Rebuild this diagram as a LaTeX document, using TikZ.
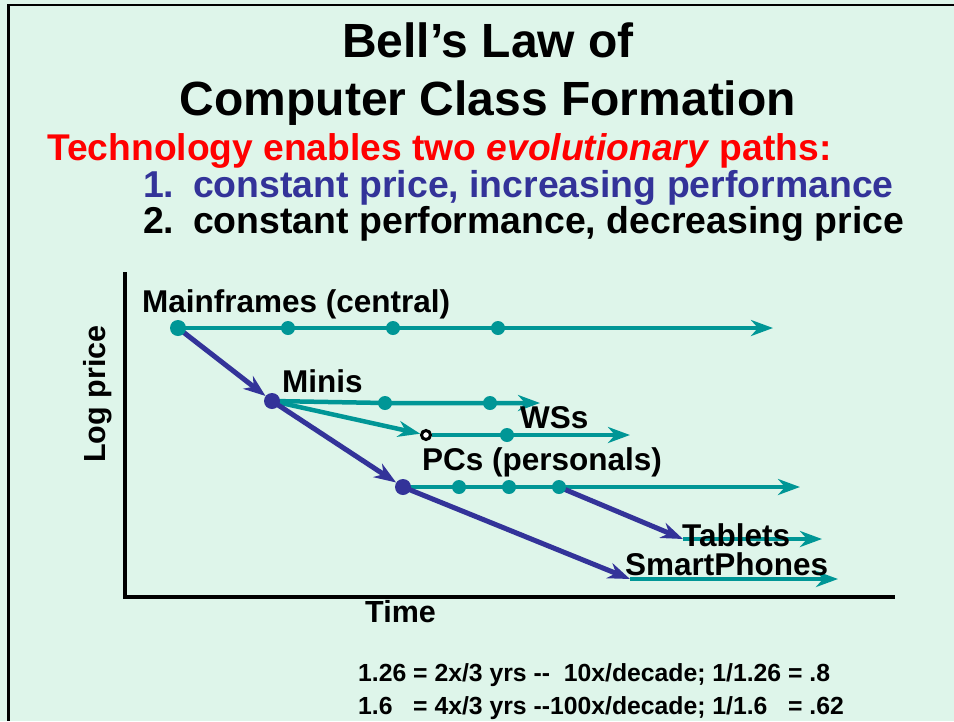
\documentclass[tikz,border=0pt]{standalone}
\usepackage{fontspec}
\usepackage{calc}
\setmainfont{Liberation Sans}
\usetikzlibrary{arrows.meta}
\definecolor{teal}{RGB}{0,150,150}
\definecolor{navy}{RGB}{51,51,153}
\definecolor{mint}{RGB}{222,245,234}
\definecolor{hdred}{RGB}{255,0,0}
\pgfdeclarelayer{paper}
\pgfdeclarelayer{wires}
\pgfsetlayers{paper,wires,main}
\newcommand{\fs}[1]{\fontsize{#1}{1.2\dimexpr#1pt\relax}\selectfont\bfseries}
\tikzset{
  txt/.style={inner sep=0pt, anchor=base west, font=\fs{31.5}},
  dot/.style={circle, fill=teal, inner sep=0pt, minimum size=14pt},
  bigdot/.style={circle, fill=#1, inner sep=0pt, minimum size=16pt},
  ring/.style={circle, draw=black, fill=white, line width=3pt, inner sep=0pt, minimum size=9pt},
  tealpath/.style={draw=teal, line width=4.5pt, -{Stealth[length=22pt,width=16pt,inset=7pt]}},
  bluepath/.style={draw=navy, line width=5pt, -{Stealth[length=22pt,width=16pt,inset=7pt]}},
  axis/.style={draw=black, line width=3.5pt}
}
\begin{document}
\begin{tikzpicture}[x=1pt, y=-1pt]
\useasboundingbox (0,0) rectangle (954,721);
\begin{pgfonlayer}{paper}
  \fill[mint] (0,0) rectangle (954,721);
  \draw[black, line width=2.5pt] (954,5) -- (8.5,5) -- (8.5,721);
\end{pgfonlayer}

% headings
\node[inner sep=0pt, anchor=base, font=\fs{48}] (t1) at (488,57) {Bell’s Law of};
\node[inner sep=0pt, anchor=base, font=\fs{48}] (t2) at (488,115) {Computer Class Formation};
\node[inner sep=0pt, anchor=base west, font=\fs{37.2}, text=hdred] (t3) at (47,160)
  {Technology enables two \textit{evolutionary} paths:};
\node[inner sep=0pt, anchor=base west, font=\fs{37.4}, text=navy] (t4) at (143,197)
  {\makebox[50pt][l]{1.}constant price, increasing performance};
\node[inner sep=0pt, anchor=base west, font=\fs{37.4}] (t5) at (143,233)
  {\makebox[50pt][l]{2.}constant performance, decreasing price};

% axes
\coordinate (ytop) at (125,272);
\coordinate (orig) at (125,597);
\coordinate (xend) at (895,597);
\draw[axis] (ytop) -- (orig) -- (xend);
\node[inner sep=0pt, rotate=90, font=\fs{30.5}] (ylab) at (98,394) {Log price};
\node[txt, font=\fs{30.5}] (xlab) at (365,622) {Time};

% milestones on the curves
\node[bigdot=teal] (mf0) at (178,328) {};
\node[dot] (mf1) at (288,328) {};
\node[dot] (mf2) at (393,328) {};
\node[dot] (mf3) at (498,328) {};
\coordinate (mfend) at (773,328);

\node[bigdot=navy] (mini) at (272,401) {};
\node[dot] (mi1) at (385,403) {};
\node[dot] (mi2) at (490,403) {};
\coordinate (miend) at (540,403);

\node[ring] (ws0) at (426,435) {};
\node[dot] (ws1) at (507,435) {};
\coordinate (wsend) at (630,435);

\node[bigdot=navy] (pc0) at (403,487) {};
\node[dot] (pc1) at (459,487) {};
\node[dot] (pc2) at (509,487) {};
\node[dot] (pc3) at (559,487) {};
\coordinate (pcend) at (800,487);

\coordinate (tb0) at (683,539);
\coordinate (tbend) at (822,539);
\coordinate (sp0) at (630,579);
\coordinate (spend) at (838,579);

\begin{pgfonlayer}{wires}
  \draw[tealpath] (mf0.center) -- (mfend);
  \draw[tealpath] (mini.center) -- (mi1.center) -- (mi2.center) -- (miend);
  \draw[tealpath] (mini.center) -- (ws0);
  \draw[tealpath] (ws0) -- (wsend);
  \draw[tealpath] (pc0.center) -- (pcend);
  \draw[tealpath] (tb0) -- (tbend);
  \draw[tealpath] (sp0) -- (spend);
  \draw[bluepath] (mf0.center) -- (mini);
  \draw[bluepath] (mini.center) -- (pc0);
  \draw[bluepath] (pc0.center) -- (sp0);
  \draw[bluepath] (pc3.center) -- (tb0);
\end{pgfonlayer}

% curve labels
\node[txt] (lmf) at (142,312) {Mainframes (central)};
\node[txt] (lmi) at (282,392) {Minis};
\node[txt] (lws) at (520,428) {WSs};
\node[txt] (lpc) at (422,470) {PCs (personals)};
\node[txt, text depth=0pt] (ltb) at (682,546) {Tablets};
\node[txt, text height=0.72em] (lsp) at (625,575) {SmartPhones};

% growth rates
\node[inner sep=0pt, anchor=base west, font=\fs{24.75}] (r1) at (358,681)
  {1.26 = 2x/3 yrs -{}-\ \ 10x/decade; 1/1.26 = .8};
\node[inner sep=0pt, anchor=base west, font=\fs{24.75}] (r2) at (358,714)
  {\makebox[\widthof{1.26}][l]{1.6} = 4x/3 yrs -{}-100x/decade; \makebox[\widthof{1/1.26}][l]{1/1.6} = .62};
\end{tikzpicture}
\end{document}
